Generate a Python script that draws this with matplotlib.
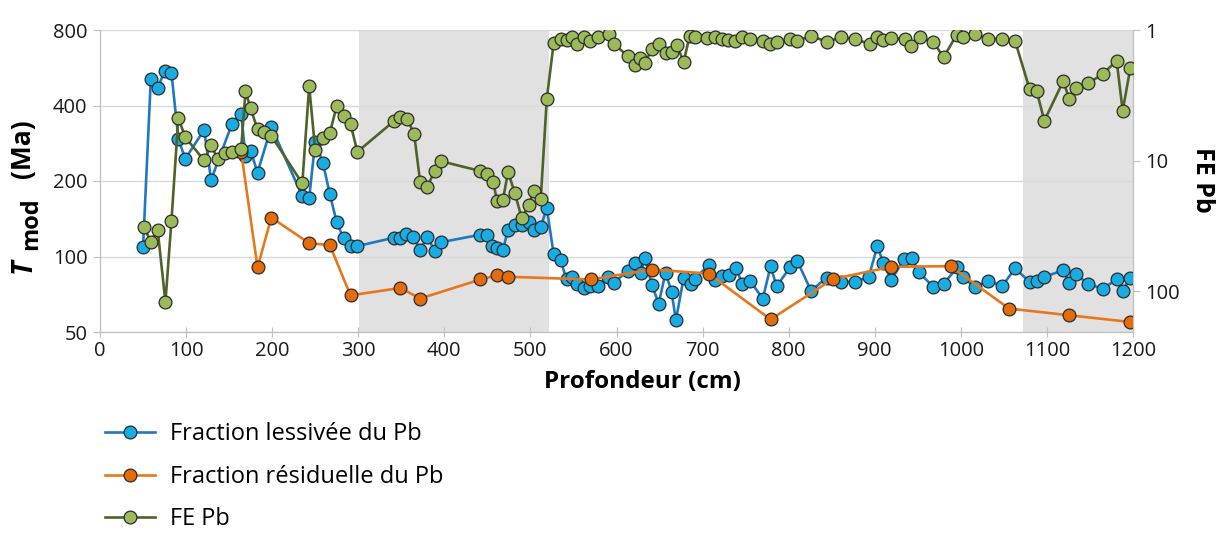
import matplotlib
matplotlib.use("Agg")
import matplotlib.pyplot as plt
import numpy as np

plt.rcParams['font.family'] = ['Open Sans', 'DejaVu Sans']

# Fraction lessivée du Pb (depth cm, Tmod Ma)
depth_less = [50, 59, 67, 75, 83, 91, 99, 121, 129, 153, 164, 169, 175, 183, 199,
              235, 243, 250, 259, 267, 275, 283, 291, 299,
              342, 349, 356, 364, 372, 380, 389, 396, 441, 449, 455, 461, 468,
              474, 482, 490, 498, 504, 512, 519, 527, 535, 542, 548, 554,
              562, 569, 578, 590, 597, 613, 621, 628, 633, 641, 649, 657, 664, 669,
              678, 686, 691, 707, 714, 723, 731, 739, 746, 755, 770, 779, 786,
              802, 810, 826, 844, 861, 877, 893, 903, 910, 919, 934, 943, 951,
              968, 980, 996, 1002, 1016, 1032, 1048, 1063, 1080, 1088, 1097,
              1119, 1126, 1134, 1148, 1165, 1181, 1188, 1197]
tmod_less = [109, 508, 468, 550, 540, 295, 245, 320, 202, 336, 371, 251, 264, 216, 329,
             174, 171, 287, 236, 177, 137, 118, 110, 110,
             119, 118, 123, 120, 106, 120, 105, 114, 122, 122, 110, 108, 106,
             128, 134, 133, 137, 127, 131, 156, 102, 96.6, 81, 83, 78,
             75.2, 76.1, 76.3, 82.9, 78.7, 87.6, 94.6, 86.3, 98.2, 77.3, 64.9, 86.3, 72.2, 55.7,
             82.1, 78, 81.7, 92.3, 80.4, 83.4, 84.2, 89.6, 78, 79.9, 68, 91.5, 76.1,
             90.9, 96.1, 72.9, 82.4, 79.2, 79.2, 82.9, 109.9, 94.3, 80.4, 97.6, 98.2, 86.8,
             75.6, 78, 90.4, 82.9, 75.6, 79.9, 76.3, 89.6, 79.2, 79.7, 82.9,
             88.2, 78.7, 85, 77.5, 74.5, 81, 72.7, 82.1]

# Fraction résiduelle du Pb
depth_res = [164, 183, 199, 243, 267, 291, 349, 372, 442, 461, 474, 570, 641, 707,
             779, 851, 919, 988, 1056, 1126, 1197]
tmod_res = [261, 90.4, 143, 113, 111, 70, 74.9, 68, 81, 84, 83, 81, 88.7, 85.5,
            56.1, 81.2, 91, 91.5, 62, 58.3, 54.8]

# FE Pb (secondary axis, inverted log)
depth_fe = [51, 59, 67, 76, 83, 91, 99, 121, 129, 137, 145, 153, 164, 169, 175, 183, 191,
            199, 235, 243, 250, 259, 267, 275, 283, 291, 299,
            342, 349, 357, 365, 372, 380, 389, 396, 441, 449, 457, 461, 468, 474,
            482, 490, 498, 504, 512, 519, 527, 535, 542, 548, 554,
            562, 569, 578, 591, 597, 613, 621, 627, 633, 641, 649, 657, 664, 670,
            678, 685, 691, 705, 714, 722, 730, 738, 746, 755, 770, 778, 786,
            802, 810, 826, 844, 861, 877, 894, 903, 910, 919, 935, 942, 952,
            968, 980, 995, 1002, 1016, 1032, 1048, 1063, 1080, 1088, 1097,
            1119, 1126, 1134, 1148, 1165, 1181, 1188, 1197]
fe_pb = [32.2, 41.6, 34.1, 120.8, 28.9, 4.70, 6.61, 9.96, 7.65, 9.74, 8.81, 8.65, 8.12,
         2.95, 3.98, 5.77, 6.05, 6.45, 14.96, 2.69, 8.31, 6.76, 6.12, 3.82, 4.54, 5.22, 8.56,
         4.95, 4.67, 4.78, 6.30, 14.7, 15.9, 11.97, 10.1, 11.97, 12.7, 14.5, 20.4, 20.1,
         12.2, 17.8, 27.7, 21.9, 17.0, 19.7, 3.38, 1.26, 1.17, 1.19, 1.14, 1.29,
         1.13, 1.21, 1.13, 1.07, 1.28, 1.58, 1.85, 1.65, 1.80, 1.40, 1.29, 1.51, 1.48, 1.30,
         1.75, 1.11, 1.14, 1.16, 1.13, 1.18, 1.19, 1.21, 1.13, 1.17, 1.21, 1.28, 1.24,
         1.18, 1.21, 1.11, 1.23, 1.14, 1.17, 1.28, 1.14, 1.19, 1.15, 1.18, 1.32, 1.14,
         1.23, 1.62, 1.09, 1.14, 1.07, 1.17, 1.17, 1.21, 2.85, 2.92, 4.95,
         2.46, 3.38, 2.80, 2.56, 2.17, 1.72, 4.15, 1.94]

shaded = [(301, 522), (1072, 1200)]

W, H = 1217, 536
fig = plt.figure(figsize=(W / 100, H / 100), dpi=100)
ax = fig.add_axes([100 / W, 1 - 332 / H, 1033 / W, 302 / H])
ax2 = ax.twinx()

for a, b in shaded:
    ax.axvspan(a, b, color='#e1e1e1', zorder=0, lw=0)

ms = 9.2
ax.plot(depth_less, tmod_less, '-o', color='#1f78c0', lw=1.9, ms=ms,
        mfc='#17ace4', mec='#2b2b2b', mew=0.9, zorder=3, label='Fraction lessivée du Pb')
ax.plot(depth_res, tmod_res, '-o', color='#e8771c', lw=1.9, ms=ms,
        mfc='#e46c0a', mec='#2b2b2b', mew=0.9, zorder=4, label='Fraction résiduelle du Pb')
l3, = ax2.plot(depth_fe, fe_pb, '-o', color='#4f6228', lw=1.9, ms=ms,
               mfc='#9bbb59', mec='#2b2b2b', mew=0.9, zorder=5, label='FE Pb')

ax.set_yscale('log')
ax.set_ylim(50, 800)
ax.set_yticks([50, 100, 200, 400, 800])
ax.set_yticklabels(['50', '100', '200', '400', '800'])
ax.minorticks_off()
ax.set_xlim(0, 1200)
ax.set_xticks(range(0, 1201, 100))
ax.yaxis.grid(True, color='#d9d9d9', lw=1)
ax.set_axisbelow(True)

ax2.set_yscale('log')
ax2.set_ylim(205, 1)
ax2.set_yticks([1, 10, 100])
ax2.set_yticklabels(['1', '10', '100'])
ax2.minorticks_off()

for a in (ax, ax2):
    for s in a.spines.values():
        s.set_color('#bfbfbf')
    a.spines['top'].set_visible(False)
    a.tick_params(colors='#bfbfbf', labelcolor='#1a1a1a', labelsize=14.5, length=5, pad=4)
ax.tick_params(axis='x', direction='inout', length=7, pad=3)

# axis titles
fig.text(642 / W, 1 - 382 / H, 'Profondeur (cm)', fontsize=17.5, fontweight='bold',
         ha='center', va='center')
fig.text(23 / W, 1 - 273 / H, 'T', fontsize=20, fontweight='bold', style='italic',
         rotation=90, ha='center', va='bottom')
fig.text(31 / W, 1 - 250 / H, 'mod', fontsize=17, fontweight='bold',
         rotation=90, ha='center', va='bottom')
fig.text(23 / W, 1 - 178 / H, '(Ma)', fontsize=19, fontweight='bold',
         rotation=90, ha='center', va='bottom')
fig.text(1203 / W, 1 - 180 / H, 'FE Pb', fontsize=18, fontweight='bold',
         rotation=-90, ha='center', va='center')

handles = ax.get_lines() + [l3]
fig.legend(handles, [h.get_label() for h in handles], loc='upper left',
           bbox_to_anchor=(96 / W, 1 - 413 / H), frameon=False, fontsize=17,
           handlelength=2.1, labelspacing=0.78, handletextpad=0.64, borderaxespad=0)

fig.savefig('out.png', dpi=100)
